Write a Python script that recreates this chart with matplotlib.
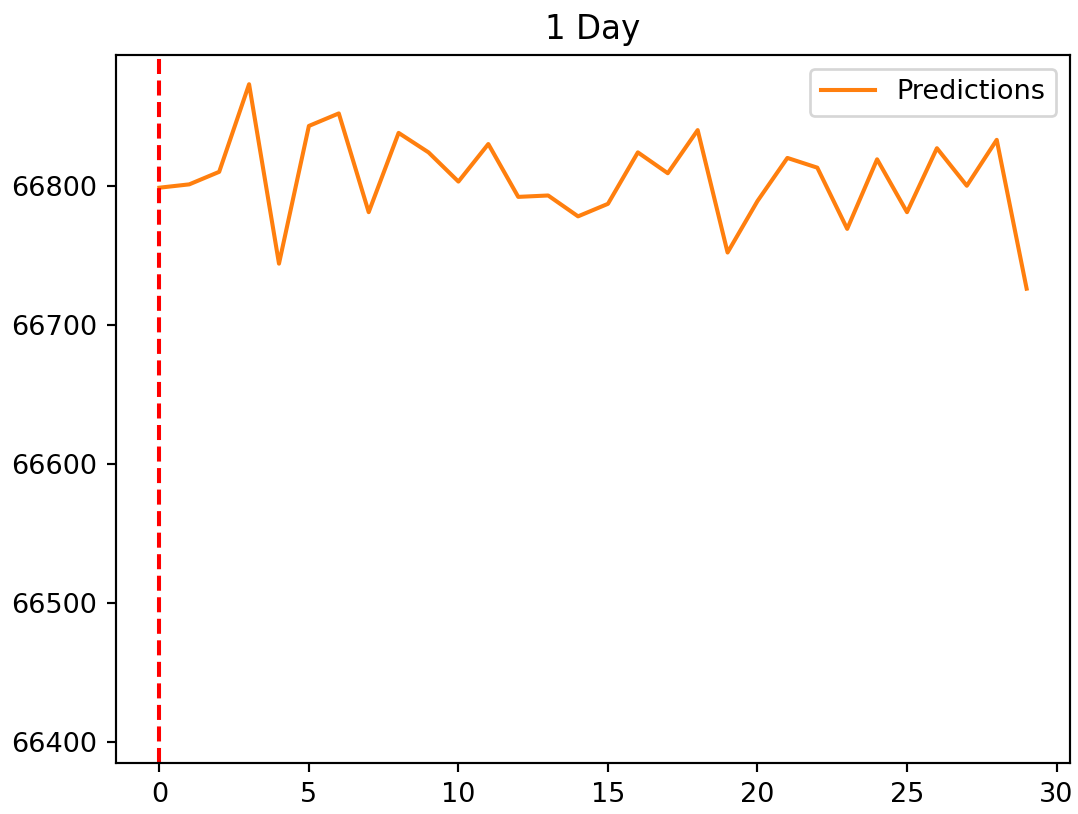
import matplotlib
matplotlib.use("Agg")
import matplotlib.pyplot as plt

# Forecast steps and predicted values
steps = list(range(30))
predictions = [
    66798.6, 66801, 66810, 66873, 66744, 66843, 66852, 66781, 66838, 66824,
    66803, 66830, 66792, 66793, 66778, 66787, 66824, 66809, 66840, 66752,
    66789, 66820, 66813, 66769, 66819, 66781, 66827, 66800, 66833, 66726,
]
title = "1 Day"

DPI = 195
fig = plt.figure(figsize=(1078 / DPI, 814 / DPI), dpi=DPI)
ax = fig.add_axes([116 / 1078, 1 - 763 / 814, (1070 - 116) / 1078, (763 - 55) / 814])

ax.plot(steps, predictions, color="#ff7f0e", label="Predictions")
ax.axvline(0, color="red", linestyle="--")

ax.set_xlim(-1.45, 30.45)
ax.set_ylim(66385, 66894)
ax.set_title(title)
ax.legend(loc="upper right")

fig.savefig("out.png", dpi=DPI)
